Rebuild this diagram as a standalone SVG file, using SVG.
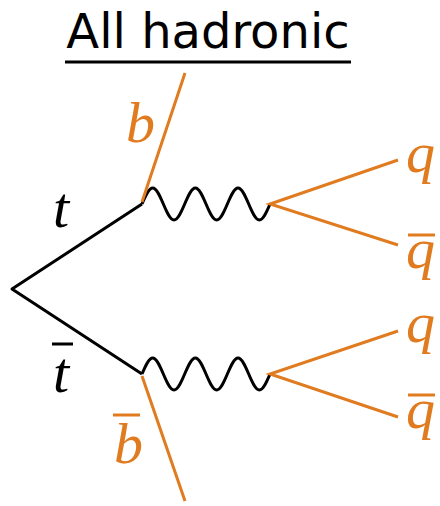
<svg xmlns="http://www.w3.org/2000/svg" width="440" height="506" viewBox="0 0 440 506">
<style>
.blk{fill:none;stroke:#000;stroke-width:3;stroke-linejoin:round}
.org{fill:none;stroke:#E07B20;stroke-width:3}
.bar{stroke:#E07B20;stroke-width:3}
.ml{font-family:"Liberation Serif","DejaVu Serif",serif;font-style:italic;font-size:58px}
.ol{fill:#E07B20}
.title{font-family:"DejaVu Sans","Liberation Sans",sans-serif;font-size:48px;fill:#000}
</style>
<defs>
<path id="wave" class="blk" d="M0,0 c3.48,-8.2 6.81,-16 10.67,-16 c3.86,0 7.19,7.8 10.67,16 c3.48,8.2 6.81,16 10.67,16 c3.86,0 7.19,-7.8 10.67,-16 c3.48,-8.2 6.81,-16 10.67,-16 c3.86,0 7.19,7.8 10.67,16 c3.48,8.2 6.81,16 10.67,16 c3.86,0 7.19,-7.8 10.67,-16 c3.48,-8.2 6.81,-16 10.67,-16 c3.86,0 7.19,7.8 10.67,16 c3.48,8.2 6.81,16 10.67,16 c3.86,0 7.19,-7.8 10.67,-16"/>
</defs>
<g id="title">
<text class="title" x="208" y="48" text-anchor="middle">All hadronic</text>
<line x1="65" y1="62" x2="351" y2="62" stroke="#000" stroke-width="3"/>
</g>
<g id="connectors">
<polyline class="blk" points="142,204 12,289 142,374"/>
<use href="#wave" x="142" y="204"/>
<use href="#wave" x="142" y="374"/>
<line class="org" x1="142" y1="202" x2="185" y2="73"/>
<line class="org" x1="142" y1="376" x2="185" y2="501"/>
<polyline class="org" points="398,160 270,204 398,245"/>
<polyline class="org" points="398,331 270,374 398,417"/>
</g>
<g id="t"><text class="ml" x="53" y="227">t</text></g>
<g id="tbar"><line x1="52" y1="344" x2="73" y2="344" stroke="#000" stroke-width="3"/><text class="ml" x="53" y="392">t</text></g>
<g id="b"><text class="ml ol" x="126" y="142">b</text></g>
<g id="bbar"><line class="bar" x1="113" y1="415" x2="140" y2="415"/><text class="ml ol" x="114" y="463">b</text></g>
<g id="q1"><text class="ml ol" x="406" y="172">q</text></g>
<g id="q1bar"><line class="bar" x1="408" y1="235" x2="435" y2="235"/><text class="ml ol" x="406" y="268">q</text></g>
<g id="q2"><text class="ml ol" x="406" y="342">q</text></g>
<g id="q2bar"><line class="bar" x1="408" y1="395" x2="435" y2="395"/><text class="ml ol" x="406" y="428">q</text></g>
</svg>
